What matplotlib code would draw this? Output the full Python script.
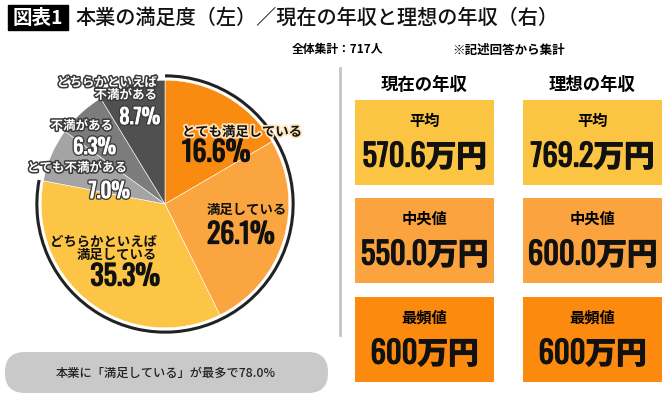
import matplotlib
matplotlib.use("Agg")
import matplotlib.pyplot as plt
import matplotlib.patheffects as pe
from matplotlib.patches import Arc, Rectangle, FancyBboxPatch

plt.rcParams['font.family'] = ['Noto Sans CJK JP', 'DejaVu Sans']
JP = ['Noto Sans CJK JP', 'DejaVu Sans']
NUM = ['Oswald', 'Roboto Condensed', 'Noto Sans CJK JP']

# データ
pie_labels = ['とても満足している', '満足している', 'どちらかといえば\n満足している',
              'とても不満がある', '不満がある', 'どちらかといえば\n不満がある']
pie_values = [16.6, 26.1, 35.3, 7.0, 6.3, 8.7]
pie_colors = ['#F98B10', '#FBA540', '#FDC545', '#A4A4A4', '#7C7C7C', '#505050']
n_satisfied = 3

columns = ['現在の年収', '理想の年収']
stats = ['平均', '中央値', '最頻値']
current_income = [570.6, 550.0, 600]
ideal_income = [769.2, 600.0, 600]
decimals = [1, 1, 0]
box_colors = ['#FBC443', '#FBA43F', '#FB8A0E']

total_n = 717

# 図
W, H = 670, 399
fig = plt.figure(figsize=(W / 100, H / 100), dpi=100)

# 円グラフ (中心 165,204 半径 124px)
cx, cy, half = 165, 204, 130
axp = fig.add_axes([(cx - half) / W, (H - cy - half) / H, 2 * half / W, 2 * half / H])
axp.pie(pie_values, colors=pie_colors, startangle=90, counterclock=False, radius=1.0,
        wedgeprops=dict(edgecolor='white', linewidth=0.4))
axp.set_xlim(-1.05, 1.05)
axp.set_ylim(-1.05, 1.05)
axp.set_aspect('equal')
axp.axis('off')

# 満足側を囲む黒い弧
sat = sum(pie_values[:n_satisfied])
axp.add_patch(Arc((0, 0), 2.07, 2.07, theta1=90 - sat * 3.6 + 360, theta2=450,
                  color='#222222', linewidth=2.2))

# 上に重ねるピクセル座標の軸
ax = fig.add_axes([0, 0, 1, 1])
ax.set_xlim(0, W)
ax.set_ylim(H, 0)
ax.axis('off')
ax.patch.set_alpha(0)

# タイトル
ax.add_patch(Rectangle((8, 5), 60, 25, color='black'))
ax.text(38, 18, '図表1', color='white', fontsize=14, fontweight='bold', ha='center', va='center', family=JP)
ax.text(75, 18, '本業の満足度（左）／現在の年収と理想の年収（右）', fontsize=14.5, fontweight='medium',
        ha='left', va='center', family=JP, color='#111111')

ax.text(292, 50, f'全体集計：{total_n}人', fontsize=8.5, fontweight='bold', ha='left', va='center', family=JP)
ax.text(452, 50, '※記述回答から集計', fontsize=9, fontweight='bold', ha='left', va='center', family=JP)

# 円グラフのラベル
white_fx = [pe.withStroke(linewidth=2.2, foreground='#3a3a3a')]
white_num_fx = [pe.Stroke(linewidth=2.6, foreground='#3a3a3a'), pe.Stroke(linewidth=0.7, foreground='white'),
                pe.Normal()]
bold_fx = [pe.withStroke(linewidth=0.9, foreground='#111111')]
glow_fx = [pe.withStroke(linewidth=2.5, foreground='#FFE2B8')]
label_pos = [(182, 132, 'left', 153), (207, 210, 'left', 235), (157, 248, 'right', 277),
             (127, 168, 'right', 191), (113, 126, 'right', 147), (157, 89, 'right', 117)]
for i, (lab, val) in enumerate(zip(pie_labels, pie_values)):
    x, y, ha, yv = label_pos[i]
    grey = i >= n_satisfied
    fx = white_fx if grey else (glow_fx if i == 0 else None)
    col = 'white' if grey else '#111111'
    ax.text(x, y, lab, fontsize=9 if grey else 9.6, fontweight='bold', ha=ha, va='center', family=JP,
            color=col, path_effects=fx, linespacing=0.95, multialignment='right' if ha == 'right' else 'left')
    xv = x + 3 if ha == 'right' else x
    ax.text(xv, yv, f'{val:.1f}%', fontsize=15 if grey else 20, fontweight='bold', ha=ha, va='center',
            family=NUM, color=col, path_effects=white_num_fx if grey else bold_fx)

# 下のまとめ
ax.add_patch(FancyBboxPatch((5, 352), 323, 41, boxstyle='round,pad=0,rounding_size=20',
                            facecolor='#C9C9C9', edgecolor='none'))
ax.text(166, 373, f'本業に「満足している」が最多で{sat:.1f}%', fontsize=8.8, fontweight='medium',
        ha='center', va='center', family=JP, color='#222222')

# 区切り線
ax.plot([340, 340], [68, 335], color='#C4C4C4', linewidth=2)

# 年収ボックス
col_x = [355, 523]
row_y = [100, 198, 297]
bw, bh = 139, 85
for c, (name, vals) in enumerate(zip(columns, [current_income, ideal_income])):
    x0 = col_x[c]
    ax.text(x0 + bw / 2, 85, name, fontsize=12.5, fontweight='bold', ha='center', va='center', family=JP)
    for r, (st, v) in enumerate(zip(stats, vals)):
        y0 = row_y[r]
        ax.add_patch(Rectangle((x0, y0), bw, bh, facecolor=box_colors[r], edgecolor='none'))
        ax.text(x0 + bw / 2, y0 + 21, st, fontsize=11, fontweight='bold', ha='center', va='center', family=JP)
        ax.text(x0 + bw / 2, y0 + 57, f'{v:.{decimals[r]}f}万円', fontsize=22, fontweight='bold',
                ha='center', va='center', family=NUM, color='#111111', path_effects=bold_fx)

fig.savefig('out.png', dpi=100)
